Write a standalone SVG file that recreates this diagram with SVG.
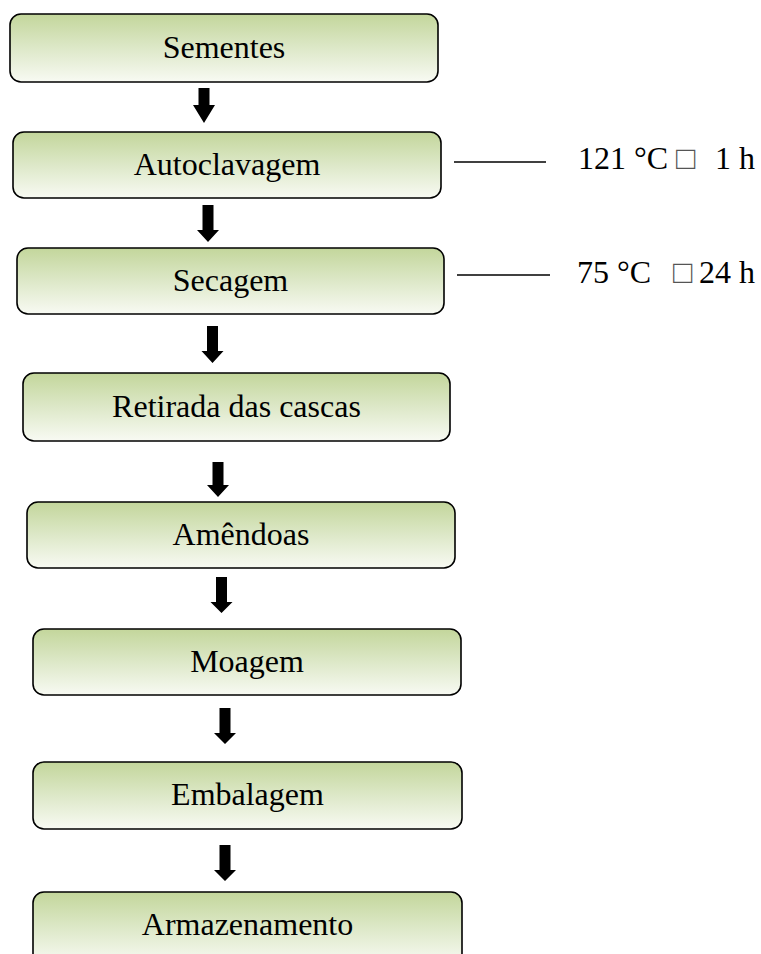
<svg xmlns="http://www.w3.org/2000/svg" width="761" height="954" viewBox="0 0 761 954">
<style>
.box{fill:url(#g);stroke:#000;stroke-width:1.6}
.t{font-family:"Liberation Serif","Times New Roman",serif;font-size:32px;fill:#000}
.c{text-anchor:middle}
.e{text-anchor:end}
.sq{fill:#555}
.ln{stroke:#000;stroke-width:1.6}
.ar{fill:#000}
</style>
<defs>
<linearGradient id="g" x1="0" y1="0" x2="0" y2="1">
<stop offset="0" stop-color="#c3d69b"/>
<stop offset="0.5" stop-color="#dde8c8"/>
<stop offset="1" stop-color="#f8faf3"/>
</linearGradient>
</defs>
<rect width="761" height="954" fill="#fff"/>
<g id="n1"><rect class="box" x="10" y="14" width="428" height="68" rx="11"/><text class="t c" x="224" y="58">Sementes</text></g>
<g id="n2"><rect class="box" x="13" y="132" width="428" height="66" rx="11"/><text class="t c" x="227" y="175">Autoclavagem</text></g>
<g id="n3"><rect class="box" x="17" y="248" width="427" height="66" rx="11"/><text class="t c" x="230.5" y="291">Secagem</text></g>
<g id="n4"><rect class="box" x="23" y="373" width="427" height="68" rx="11"/><text class="t c" x="236.5" y="417">Retirada das cascas</text></g>
<g id="n5"><rect class="box" x="27" y="502" width="428" height="66" rx="11"/><text class="t c" x="241" y="545">Amêndoas</text></g>
<g id="n6"><rect class="box" x="33" y="629" width="428" height="66" rx="11"/><text class="t c" x="247" y="672">Moagem</text></g>
<g id="n7"><rect class="box" x="33" y="762" width="429" height="67" rx="11"/><text class="t c" x="247.5" y="805">Embalagem</text></g>
<g id="n8"><rect class="box" x="33" y="892" width="429" height="72" rx="11"/><text class="t c" x="247.5" y="935">Armazenamento</text></g>
<g id="a1"><text class="t" x="578" y="169">121 °C</text><text class="t sq" x="676" y="169">□</text><text class="t e" x="755" y="169">1 h</text></g>
<g id="a2"><text class="t" x="577" y="283">75 °C</text><text class="t sq" x="673" y="283">□</text><text class="t e" x="755" y="283">24 h</text></g>
<g id="connectors">
<line class="ln" x1="454" y1="162" x2="546" y2="162"/>
<line class="ln" x1="457" y1="275" x2="550" y2="275"/>
<path class="ar" d="M198.5 88h11v17h5.5l-11 18l-11-18h5.5z"/>
<path class="ar" d="M202.5 205h11v25h5.5l-11 12l-11-12h5.5z"/>
<path class="ar" d="M207 326h11v25h5.5l-11 12l-11-12h5.5z"/>
<path class="ar" d="M212.5 462h11v23h5.5l-11 12l-11-12h5.5z"/>
<path class="ar" d="M216 577h11v25h5.5l-11 11l-11-11h5.5z"/>
<path class="ar" d="M219.5 708h11v25h5.5l-11 11l-11-11h5.5z"/>
<path class="ar" d="M219.5 845h11v25h5.5l-11 11l-11-11h5.5z"/>
</g>
</svg>
